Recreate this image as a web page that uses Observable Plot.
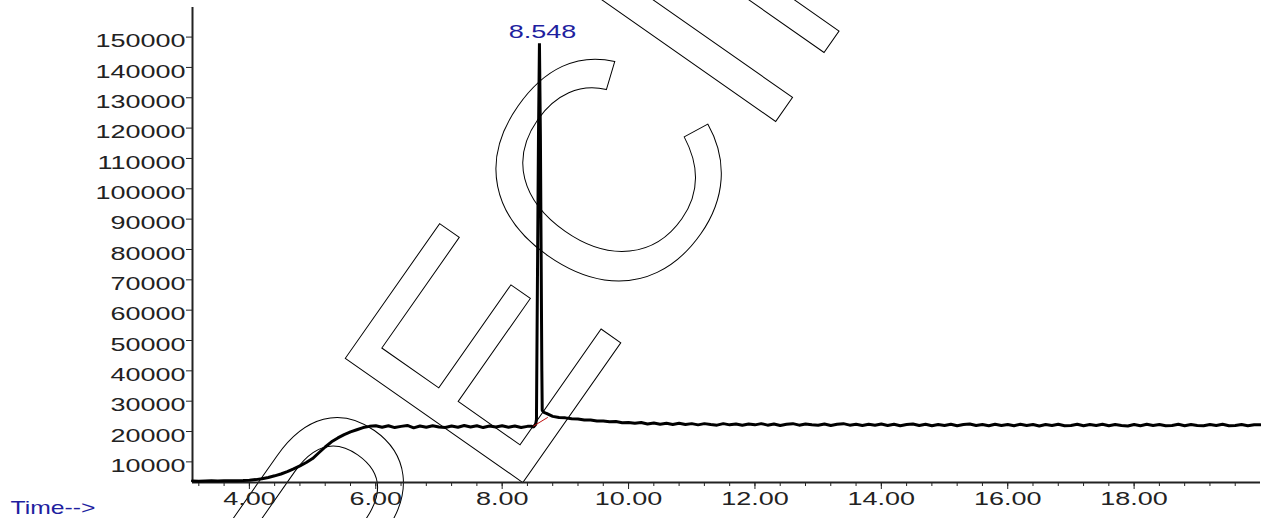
<!DOCTYPE html>
<html><head><meta charset="utf-8">
<style>
html,body{margin:0;padding:0;background:#fff;overflow:hidden}
</style>
<script src="https://cdn.jsdelivr.net/npm/d3@7"></script>
<script src="https://cdn.jsdelivr.net/npm/@observablehq/plot@0.6"></script>
</head><body><div id="chart"></div>
<script>
// ---- axis ticks ----
const xTickLabels = [4, 6, 8, 10, 12, 14, 16, 18];
const xMinorTicks = d3.range(8, 50).map(i => i * 0.4);
const yTickValues = [10000, 20000, 30000, 40000, 50000, 60000, 70000, 80000, 90000, 100000, 110000, 120000, 130000, 140000, 150000];
const xDomain = [3.1, 20.0];
const yDomain = [3200, 159750];

// ---- signal before the peak (3.1 .. 8.4 min, every 0.1 min) ----
const riseTimes = d3.range(31, 85).map(i => i / 10);
const riseValues = [
  3700, 3650, 3700, 3750, 3700, 3750, 3800, 3800, 3850,
  3950, 4150, 4450, 4850, 5400, 6000, 6800, 7700, 8700, 9800,
  11100, 13000, 14900, 16600, 17900, 19000, 19900, 20600, 21300, 21700,
  21900, 21400, 21900, 21300, 21700, 22000, 21200, 21800, 21400, 21900,
  21500, 21300, 21800, 21400, 22000, 21500, 21900, 21300, 21800, 21500,
  21900, 21400, 21800, 21300, 21700
];

// ---- the peak ----
const peakTimes  = [8.47, 8.496, 8.53, 8.543, 8.548, 8.575, 8.59, 8.605, 8.628, 8.634, 8.66, 8.70, 8.75];
const peakValues = [21700, 21500, 22300, 24000, 40000, 118000, 148000, 118000, 40000, 27000, 26300, 26000, 25500];
const peakLabel = "8.548";
const peakApexTime = 8.59;
const peakApexValue = 148000;

// ---- integration baseline (red) ----
const baseTimes = [8.496, 8.717];
const baseValues = [21800, 24600];

// ---- signal after the peak (8.8 .. 20.0 min, every 0.1 min) ----
const tailTimes = d3.range(88, 201).map(i => i / 10);
const tailValues = [
  25000, 24600,
  24500, 24200, 24100, 23800, 23800, 23500, 23500, 23200, 23300, 22900,
  23000, 22700, 23000, 22500, 22800, 22400, 22700, 22300, 22700, 22300,
  22600, 22200, 22600, 22300, 22100, 22600, 22200, 22500, 22100, 22500,
  22200, 22600, 22100, 22500, 22000, 22400, 22600, 22100, 22500, 22200,
  22100, 22500, 22000, 22400, 22600, 22100, 22400, 22000, 22400, 22100,
  22500, 22000, 22400, 21900, 22300, 22500, 22000, 22400, 21900, 22300,
  22000, 22400, 21900, 22300, 22500, 22000, 22300, 21900, 22400, 22000,
  22300, 21900, 22400, 22000, 22300, 21800, 22300, 22000, 22400, 21900,
  22000, 22400, 21900, 22300, 22000, 22400, 21900, 22300, 22000, 21800,
  22300, 21900, 22400, 22000, 22300, 21900, 22000, 22400, 21900, 22300,
  22000, 21900, 22300, 22000, 22400, 21900, 22000, 22300, 21900, 22200,
  22200
];

const axisLabel = "Time-->";
const watermark = "SPECIMEN";

const signal = [
  ...riseTimes.map((t, i) => ({t, v: riseValues[i]})),
  ...peakTimes.map((t, i) => ({t, v: peakValues[i]})),
  ...tailTimes.map((t, i) => ({t, v: tailValues[i]}))
];
const baseline = baseTimes.map((t, i) => ({t, v: baseValues[i]}));
const blue = "#1f1f9f";

const chart = Plot.plot({
  width: 1261, height: 518,
  marginLeft: 192, marginRight: 1, marginTop: 7, marginBottom: 36,
  x: {domain: xDomain, axis: null},
  y: {domain: yDomain, axis: null},
  style: {fontFamily: "'Liberation Sans', Arial, sans-serif", fontSize: "19px", color: "#111", background: "#fff"},
  marks: [
    Plot.axisX(xMinorTicks, {tickSize: 4, tickFormat: () => "", label: null, stroke: "#222"}),
    Plot.axisX(xTickLabels, {tickSize: 7, tickPadding: 2, tickFormat: d => d.toFixed(2), label: null, stroke: "#222", fill: "#222"}),
    Plot.axisY(yTickValues, {tickSize: 6, tickPadding: 1, tickFormat: d => String(d), label: null, stroke: "#222", fill: "#222"}),
    Plot.ruleX([xDomain[0]], {stroke: "#222", strokeWidth: 2}),
    Plot.ruleY([yDomain[0]], {stroke: "#222", strokeWidth: 2}),
    Plot.line(signal, {x: "t", y: "v", stroke: "#000", strokeWidth: 3, strokeLinejoin: "miter"}),
    Plot.line(baseline, {x: "t", y: "v", stroke: "#c01010", strokeWidth: 1}),
    Plot.text([peakLabel], {x: () => peakApexTime, y: () => peakApexValue, text: d => d, dx: 3, dy: -5, lineAnchor: "bottom", fill: blue}),
    Plot.text([axisLabel], {frameAnchor: "bottom-left", text: d => d, dx: -182, dy: 25, textAnchor: "start", lineAnchor: "middle", fill: blue})
  ]
});
document.getElementById("chart").appendChild(chart);

const svg = d3.select(chart);
// stretch the wide instrument font
svg.selectAll('[aria-label="y-axis tick label"] text, [aria-label="x-axis tick label"] text, [aria-label="text"] text').each(function() {
  const len = this.getComputedTextLength();
  if (len > 0) {
    const f = this.textContent === axisLabel ? 1.3 : 1.42;
    this.setAttribute("textLength", len * f);
    this.setAttribute("lengthAdjust", "spacingAndGlyphs");
  }
});
svg.selectAll('[aria-label="y-axis tick label"]').attr("transform", function() {
  const t = this.getAttribute("transform") || "";
  return t + " translate(0,4)";
});
// outlined watermark
svg.insert("text", "g")
  .attr("transform", "translate(267,848) rotate(-55)")
  .attr("text-anchor", "start")
  .attr("font-family", "'Liberation Sans', Arial, sans-serif")
  .attr("font-size", 315)
  .attr("fill", "none")
  .attr("stroke", "#000")
  .attr("stroke-width", 1)
  .text(watermark);
</script>
</body></html>
